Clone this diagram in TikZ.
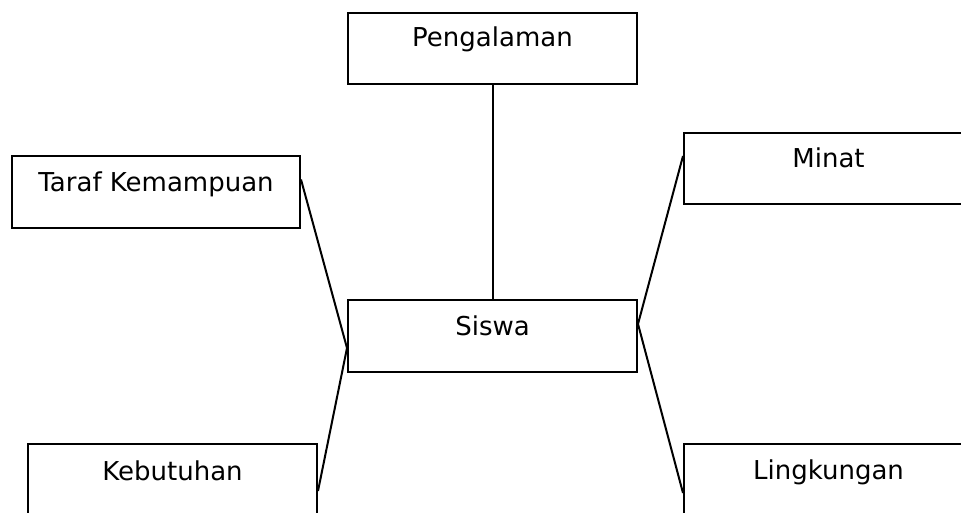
\documentclass[tikz,border=0pt]{standalone}
\usepackage{fontspec}
\setmainfont{DejaVu Sans}
\begin{document}
\begin{tikzpicture}[x=1pt,y=-1pt,
  box/.style={draw, line width=2pt, rectangle, minimum width=289pt, minimum height=71pt, inner sep=0pt, anchor=north west},
  lbl/.style={anchor=base, font=\fontsize{26}{30}\selectfont, inner sep=0pt},
  conn/.style={line width=2pt}]
\clip (0,0) rectangle (961,513);
\useasboundingbox (0,0) rectangle (961,513);
\node[box] (peng) at (347,12) {};
\node[box, minimum width=288pt, minimum height=72pt] (taraf) at (11,155) {};
\node[box] (minat) at (683,132) {};
\node[box, minimum height=72pt] (siswa) at (347,299) {};
\node[box] (kebut) at (27,443) {};
\node[box] (ling) at (683,443) {};
\node[lbl] (tpeng) at ([yshift=-35pt]peng.north) {Pengalaman};
\node[lbl] (ttaraf) at ([yshift=-37pt]taraf.north) {Taraf Kemampuan};
\node[lbl] (tminat) at ([yshift=-36pt]minat.north) {Minat};
\node[lbl] (tsiswa) at ([yshift=-36pt]siswa.north) {Siswa};
\node[lbl] (tkebut) at ([yshift=-37pt]kebut.north) {Kebutuhan};
\node[lbl] (tling) at ([yshift=-36pt]ling.north) {Lingkungan};
\draw[conn] (peng.south) -- (siswa.north);
\draw[conn] ([yshift=12.5pt]taraf.east) -- ([yshift=-12pt]siswa.west);
\draw[conn] ([yshift=-11.5pt]kebut.east) -- ([yshift=-12pt]siswa.west);
\draw[conn] ([yshift=12.5pt]minat.west) -- ([yshift=12pt]siswa.east);
\draw[conn] ([yshift=-13.5pt]ling.west) -- ([yshift=12pt]siswa.east);
\end{tikzpicture}
\end{document}
